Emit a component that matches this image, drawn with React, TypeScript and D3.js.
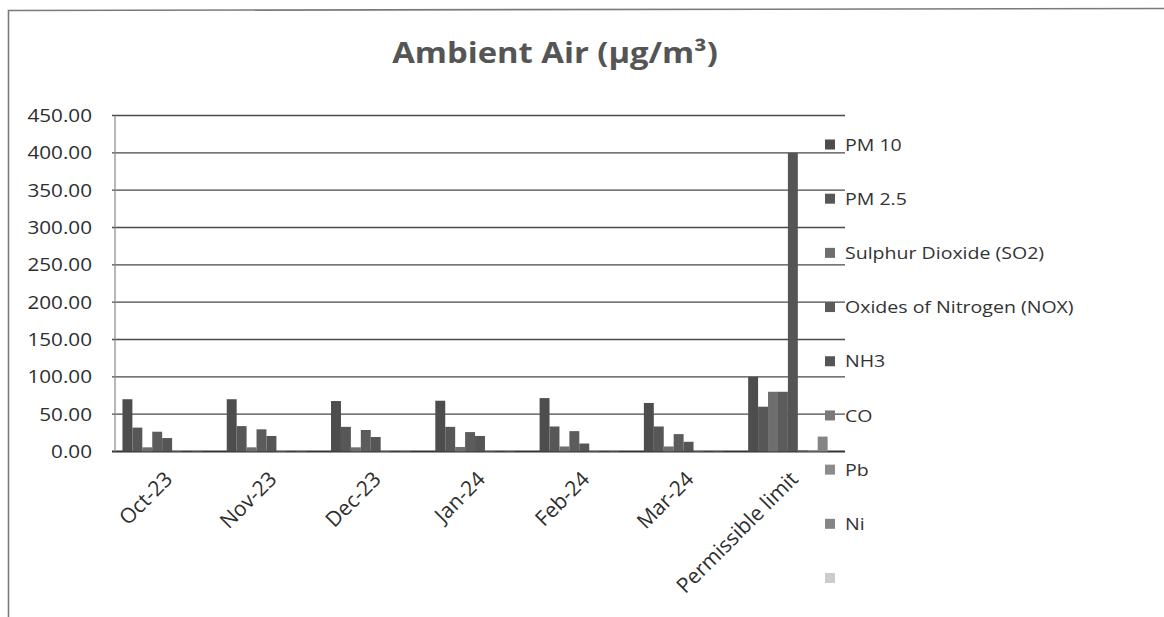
import React from "react";
import * as d3 from "d3";

// categories and series
const categories = ["Oct-23", "Nov-23", "Dec-23", "Jan-24", "Feb-24", "Mar-24", "Permissible limit"];
const seriesNames = ["PM 10", "PM 2.5", "Sulphur Dioxide (SO2)", "Oxides of Nitrogen (NOX)", "NH3", "CO", "Pb", "Ni", ""];

const pm10 = [70, 70, 67.6, 68, 71.5, 65, 100];
const pm25 = [32, 34, 33, 33, 33.5, 33.5, 60];
const so2 = [5.6, 5.6, 5.6, 6, 6.7, 6.7, 80];
const nox = [26.5, 29.7, 28.8, 26, 27.3, 23.3, 80];
const nh3 = [18, 20.8, 19.4, 20.8, 10.7, 13, 400];
const co = [0.6, 0.6, 0.6, 0.6, 0.6, 0.6, 2];
const pb = [0.1, 0.1, 0.1, 0.1, 0.1, 0.1, 1];
const ni = [0.4, 0.4, 0.4, 0.4, 0.4, 0.4, 20];
const blank = [0, 0, 0, 0, 0, 0, 0];

const yTicks = [0, 50, 100, 150, 200, 250, 300, 350, 400, 450];
const colors = ["#4d4d4d", "#575757", "#6e6e6e", "#5c5c5c", "#555555", "#7a7a7a", "#8c8c8c", "#858585", "#cccccc"];

const allSeries = [pm10, pm25, so2, nox, nh3, co, pb, ni, blank];

const W = 1164;
const H = 617;
const plot = { left: 115, right: 845, top: 115.5, bottom: 451.5 };
const font = "'Open Sans', 'Liberation Sans', sans-serif";
const SX = 1.15; // horizontal text is wider in the scan

export default function App() {
  const x0 = d3.scaleBand<string>().domain(categories).range([plot.left, plot.right]);
  const x1 = d3
    .scaleBand<number>()
    .domain(d3.range(seriesNames.length))
    .range([0, x0.bandwidth()])
    .paddingOuter(0.75);
  const y = d3.scaleLinear().domain([0, 450]).range([plot.bottom, plot.top]);

  const legendY = d3.scalePoint<number>().domain(d3.range(seriesNames.length)).range([144.5, 578]);

  return (
    <svg
      width={W}
      height={H}
      style={{ position: "absolute", left: 0, top: 0, background: "#fff" }}
    >
      {/* chart frame */}
      <path d={`M8.5,${H} L8.5,10.5 L${W},8.5`} fill="none" stroke="#7a7a7a" strokeWidth={1.6} />

      {/* title */}
      <text
        transform={`translate(555,63) scale(${SX},1)`}
        textAnchor="middle"
        fontFamily={font}
        fontWeight={700}
        fontSize={28.5}
        fill="#555"
      >
        Ambient Air (µg/m³)
      </text>

      {/* gridlines */}
      {yTicks.map((t) => (
        <line
          key={t}
          x1={plot.left - 3}
          x2={plot.right}
          y1={y(t)}
          y2={y(t)}
          stroke={t === 0 ? "#333" : "#484848"}
          strokeWidth={t === 0 ? 1.8 : 1.3}
        />
      ))}
      <line x1={plot.left} x2={plot.left} y1={plot.top} y2={plot.bottom} stroke="#888" strokeWidth={1.2} />

      {/* y tick labels */}
      {yTicks.map((t) => (
        <text
          key={t}
          transform={`translate(92,${y(t)}) scale(${SX},1)`}
          dy="0.36em"
          textAnchor="end"
          fontFamily={font}
          fontSize={18}
          fill="#2e2e2e"
        >
          {t.toFixed(2)}
        </text>
      ))}

      {/* bars */}
      {allSeries.map((vals, si) =>
        vals.map((v, ci) => (
          <rect
            key={`${si}-${ci}`}
            x={(x0(categories[ci]) as number) + (x1(si) as number)}
            y={y(v)}
            width={x1.bandwidth()}
            height={plot.bottom - y(v)}
            fill={colors[si]}
          />
        ))
      )}

      {/* x labels */}
      {categories.map((c) => (
        <text
          key={c}
          transform={`translate(${(x0(c) as number) + x0.bandwidth() / 2 - 4},470) rotate(-45)`}
          dy="0.71em"
          textAnchor="end"
          fontFamily={font}
          fontSize={21}
          fill="#2e2e2e"
        >
          {c}
        </text>
      ))}

      {/* legend */}
      {seriesNames.map((s, i) => (
        <g key={i} transform={`translate(825,${legendY(i)})`}>
          <rect x={0} y={-5} width={10} height={10} fill={colors[i]} />
          <text
            transform={`translate(20,0) scale(${SX},1)`}
            dy="0.36em"
            fontFamily={font}
            fontSize={17}
            fill="#333"
          >
            {s}
          </text>
        </g>
      ))}
    </svg>
  );
}
